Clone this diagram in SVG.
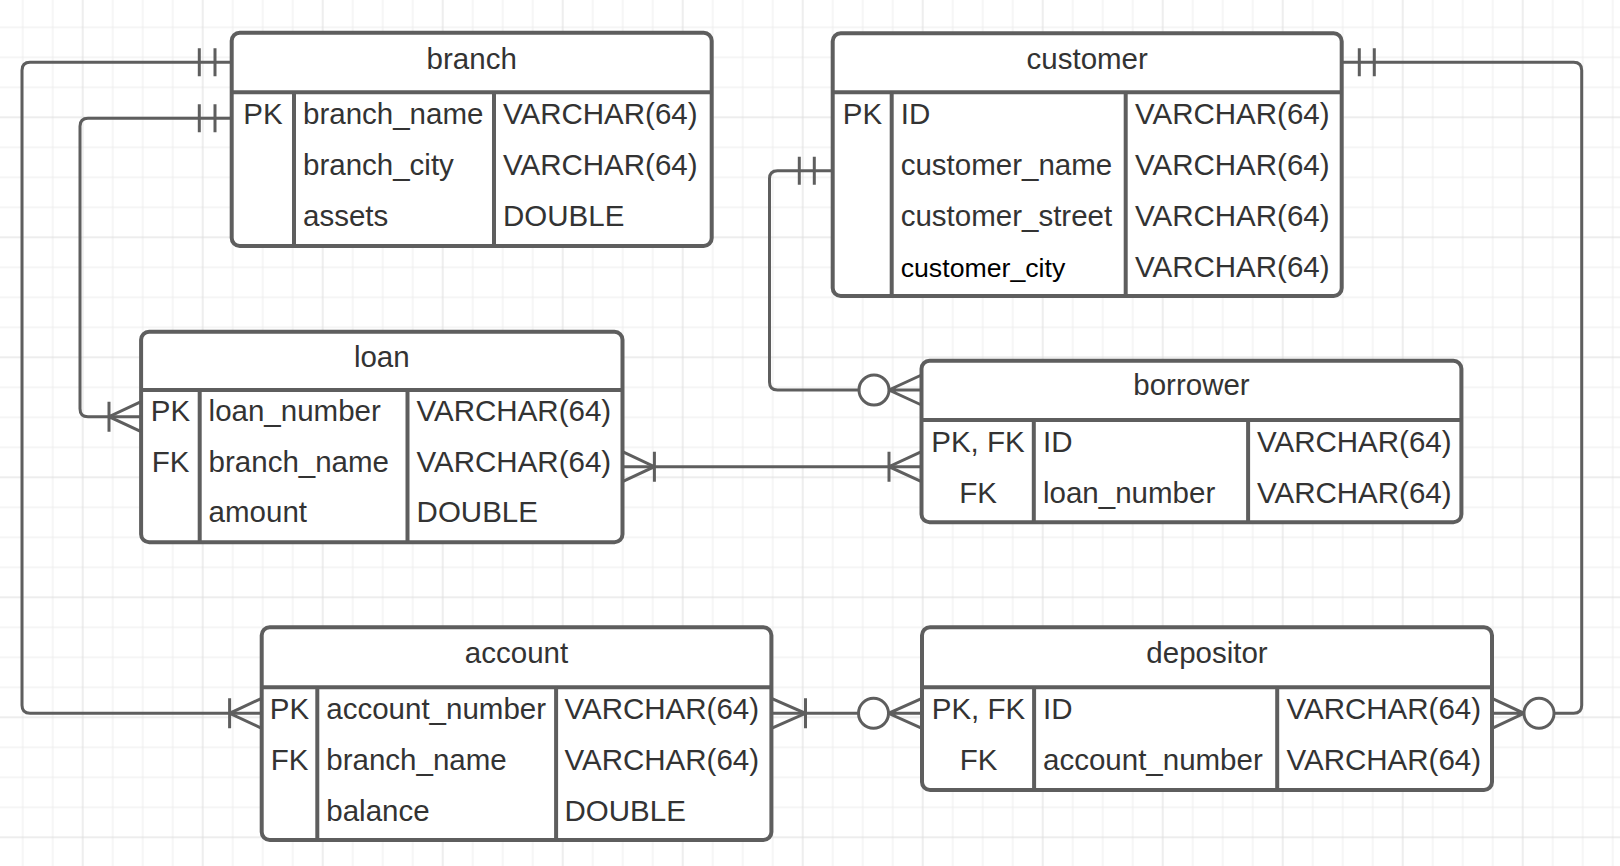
<svg xmlns="http://www.w3.org/2000/svg" width="1620" height="866" viewBox="0 0 1620 866">
<defs>
<pattern id="grid" patternUnits="userSpaceOnUse" x="7.7" y="12.3" width="120" height="120">
<g stroke="#ececec" stroke-width="1">
<line x1="15" y1="0" x2="15" y2="120"/><line x1="45" y1="0" x2="45" y2="120"/><line x1="105" y1="0" x2="105" y2="120"/>
<line x1="0" y1="15" x2="120" y2="15"/><line x1="0" y1="45" x2="120" y2="45"/><line x1="0" y1="75" x2="120" y2="75"/>
</g>
<g stroke="#dcdcdc" stroke-width="1">
<line x1="75" y1="0" x2="75" y2="120"/>
<line x1="0" y1="105" x2="120" y2="105"/>
</g>
</pattern>
</defs>
<style>
.box{fill:#fff;stroke:#5e5e5e;stroke-width:4}
.div{stroke:#5e5e5e;stroke-width:4}
text{font-family:"Liberation Sans",Arial,sans-serif;font-size:29.5px;fill:#333}
.t{text-anchor:middle}
.k{text-anchor:middle}
.blk{fill:#000;font-size:26.7px}
.c{fill:none;stroke:#5e5e5e;stroke-width:3}
.o{fill:#fff;stroke:#5e5e5e;stroke-width:3}
</style>
<rect width="1620" height="866" fill="#fff"/>
<rect width="1620" height="866" fill="url(#grid)"/>

<g id="branch">
<rect class="box" x="231.7" y="32.7" width="480" height="213.3" rx="8"/>
<line class="div" x1="231.7" y1="92.3" x2="711.7" y2="92.3"/>
<line class="div" x1="294" y1="92.3" x2="294" y2="246"/>
<line class="div" x1="494" y1="92.3" x2="494" y2="246"/>
<text class="t" x="471.7" y="69.3">branch</text>
<text class="k" x="263" y="124">PK</text>
<text x="303" y="124">branch_name</text>
<text x="503" y="124">VARCHAR(64)</text>
<text x="303" y="175">branch_city</text>
<text x="503" y="175">VARCHAR(64)</text>
<text x="303" y="225.5">assets</text>
<text x="503" y="225.5">DOUBLE</text>
</g>

<g id="customer">
<rect class="box" x="832.7" y="33.3" width="509" height="262.7" rx="8"/>
<line class="div" x1="832.7" y1="92.3" x2="1341.7" y2="92.3"/>
<line class="div" x1="891.7" y1="92.3" x2="891.7" y2="296"/>
<line class="div" x1="1125.7" y1="92.3" x2="1125.7" y2="296"/>
<text class="t" x="1087.2" y="69.3">customer</text>
<text class="k" x="862.5" y="124.3">PK</text>
<text x="900.7" y="124.3">ID</text>
<text x="1135" y="124.3">VARCHAR(64)</text>
<text x="900.7" y="175.3">customer_name</text>
<text x="1135" y="175.3">VARCHAR(64)</text>
<text x="900.7" y="225.7">customer_street</text>
<text x="1135" y="225.7">VARCHAR(64)</text>
<text class="blk" x="900.7" y="276.7">customer_city</text>
<text x="1135" y="276.7">VARCHAR(64)</text>
</g>

<g id="loan">
<rect class="box" x="141.1" y="331.7" width="481.4" height="210.6" rx="8"/>
<line class="div" x1="141.1" y1="390" x2="622.5" y2="390"/>
<line class="div" x1="199.7" y1="390" x2="199.7" y2="542.3"/>
<line class="div" x1="407.5" y1="390" x2="407.5" y2="542.3"/>
<text class="t" x="381.8" y="366.7">loan</text>
<text class="k" x="170.5" y="421">PK</text>
<text x="208.6" y="421">loan_number</text>
<text x="416.6" y="421">VARCHAR(64)</text>
<text class="k" x="170.5" y="471.7">FK</text>
<text x="208.6" y="471.7">branch_name</text>
<text x="416.6" y="471.7">VARCHAR(64)</text>
<text x="208.6" y="522.3">amount</text>
<text x="416.6" y="522.3">DOUBLE</text>
</g>

<g id="borrower">
<rect class="box" x="921.5" y="360.7" width="539.9" height="161.6" rx="8"/>
<line class="div" x1="921.5" y1="420" x2="1461.4" y2="420"/>
<line class="div" x1="1033.8" y1="420" x2="1033.8" y2="522.3"/>
<line class="div" x1="1248.1" y1="420" x2="1248.1" y2="522.3"/>
<text class="t" x="1191.5" y="395">borrower</text>
<text class="k" x="978" y="451.7">PK, FK</text>
<text x="1043" y="451.7">ID</text>
<text x="1257" y="451.7">VARCHAR(64)</text>
<text class="k" x="978" y="502.7">FK</text>
<text x="1043" y="502.7">loan_number</text>
<text x="1257" y="502.7">VARCHAR(64)</text>
</g>

<g id="account">
<rect class="box" x="261.7" y="627.3" width="509.7" height="212.7" rx="8"/>
<line class="div" x1="261.7" y1="687.3" x2="771.4" y2="687.3"/>
<line class="div" x1="317.3" y1="687.3" x2="317.3" y2="840"/>
<line class="div" x1="556.1" y1="687.3" x2="556.1" y2="840"/>
<text class="t" x="516.5" y="663.3">account</text>
<text class="k" x="289.5" y="719">PK</text>
<text x="326.3" y="719">account_number</text>
<text x="564.5" y="719">VARCHAR(64)</text>
<text class="k" x="289.5" y="770">FK</text>
<text x="326.3" y="770">branch_name</text>
<text x="564.5" y="770">VARCHAR(64)</text>
<text x="326.3" y="820.7">balance</text>
<text x="564.5" y="820.7">DOUBLE</text>
</g>

<g id="depositor">
<rect class="box" x="922" y="627.3" width="570" height="162.7" rx="8"/>
<line class="div" x1="922" y1="687.3" x2="1492" y2="687.3"/>
<line class="div" x1="1034.1" y1="687.3" x2="1034.1" y2="790"/>
<line class="div" x1="1277.2" y1="687.3" x2="1277.2" y2="790"/>
<text class="t" x="1207" y="663.3">depositor</text>
<text class="k" x="978.5" y="719">PK, FK</text>
<text x="1043" y="719">ID</text>
<text x="1286.5" y="719">VARCHAR(64)</text>
<text class="k" x="978.5" y="770">FK</text>
<text x="1043" y="770">account_number</text>
<text x="1286.5" y="770">VARCHAR(64)</text>
</g>

<g id="connectors">
<!-- branch to account -->
<path class="c" d="M231.7,62.3 H30 Q22,62.3 22,70.3 V705.3 Q22,713.3 30,713.3 H261.7"/>
<path class="c" d="M199.3,48.3 V76.3 M215,48.3 V76.3"/>
<path class="c" d="M229.6,698.3 V728.3 M261.7,698.3 L229.6,713.3 L261.7,728.3"/>
<!-- branch to loan -->
<path class="c" d="M231.7,118.3 H88 Q80,118.3 80,126.3 V408.7 Q80,416.7 88,416.7 H141.1"/>
<path class="c" d="M199.3,104.3 V132.3 M215,104.3 V132.3"/>
<path class="c" d="M109,401.7 V431.7 M141.1,401.7 L109,416.7 L141.1,431.7"/>
<!-- customer to depositor -->
<path class="c" d="M1341.7,62.3 H1573.7 Q1581.7,62.3 1581.7,70.3 V705.3 Q1581.7,713.3 1573.7,713.3 H1554"/>
<path class="c" d="M1359.3,48.3 V76.3 M1374.3,48.3 V76.3"/>
<path class="c" d="M1524,713.3 H1492 M1492,698.3 L1524,713.3 L1492,728.3"/>
<circle class="o" cx="1539" cy="713.3" r="15"/>
<!-- account to depositor -->
<path class="c" d="M771.4,713.3 H858.5"/>
<path class="c" d="M805.5,698.3 V728.3 M771.4,698.3 L805.5,713.3 L771.4,728.3"/>
<path class="c" d="M888.5,713.3 H922 M922,698.3 L888.5,713.3 L922,728.3"/>
<circle class="o" cx="873.5" cy="713.3" r="15"/>
<!-- customer to borrower -->
<path class="c" d="M832.7,170.7 H777.5 Q769.5,170.7 769.5,178.7 V382 Q769.5,390 777.5,390 H859"/>
<path class="c" d="M799.3,156.7 V184.7 M814.3,156.7 V184.7"/>
<path class="c" d="M889,390 H921.5 M921.5,375 L889,390 L921.5,405"/>
<circle class="o" cx="874" cy="390" r="15"/>
<!-- loan to borrower -->
<path class="c" d="M622.5,466.7 H921.5"/>
<path class="c" d="M654.4,451.7 V481.7 M622.5,451.7 L654.4,466.7 L622.5,481.7"/>
<path class="c" d="M889,451.7 V481.7 M921.5,451.7 L889,466.7 L921.5,481.7"/>
</g>
</svg>
